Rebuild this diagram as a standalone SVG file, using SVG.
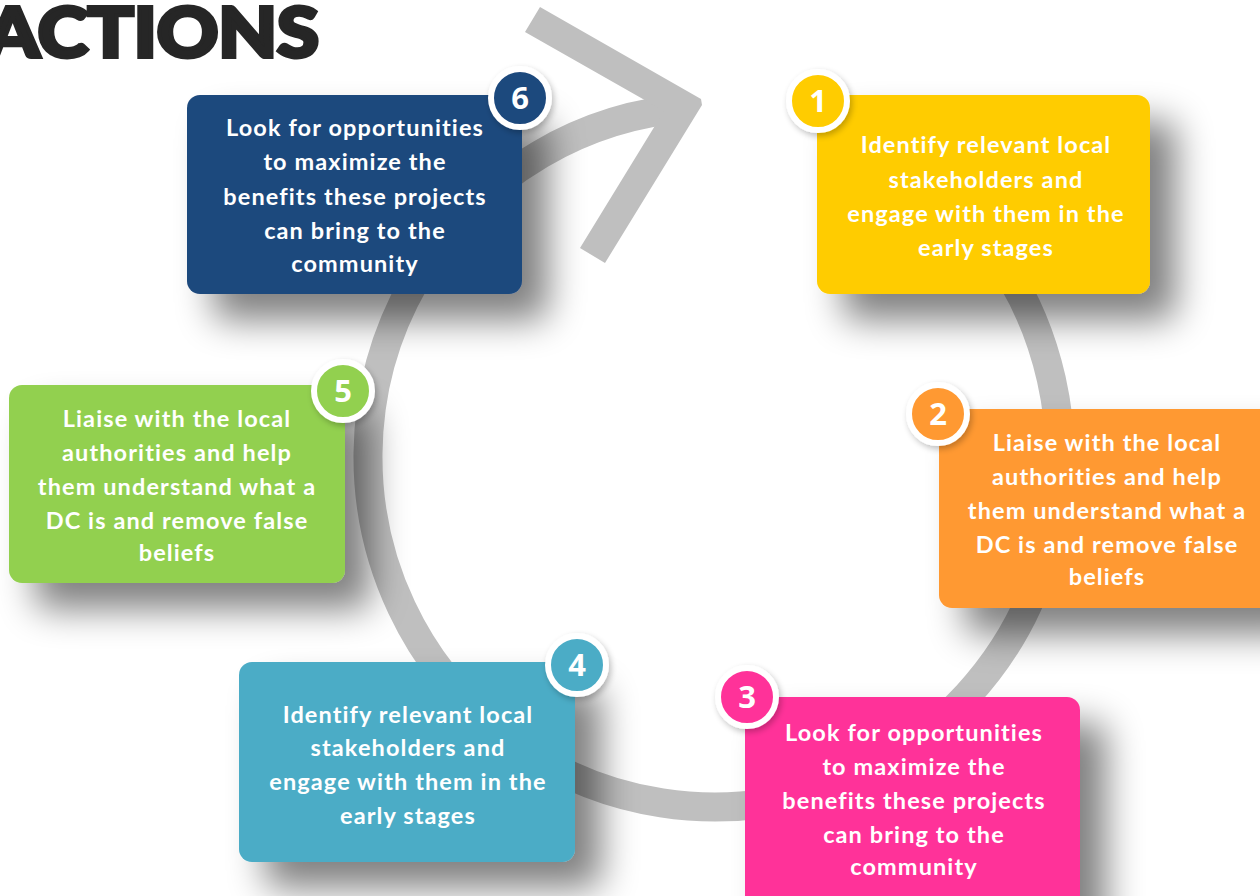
<svg xmlns="http://www.w3.org/2000/svg" width="1260" height="896" viewBox="0 0 1260 896">
<defs>
<filter id="sh" x="-30%" y="-30%" width="170%" height="180%">
<feGaussianBlur in="SourceAlpha" stdDeviation="18"/>
<feOffset dx="26" dy="26" result="b"/>
<feComponentTransfer in="b" result="s"><feFuncA type="linear" slope="0.5"/></feComponentTransfer>
<feMerge><feMergeNode in="s"/><feMergeNode in="SourceGraphic"/></feMerge>
</filter>
<filter id="shc" x="-50%" y="-50%" width="200%" height="200%">
<feGaussianBlur in="SourceAlpha" stdDeviation="3"/>
<feOffset dx="2" dy="3" result="b"/>
<feComponentTransfer in="b" result="s"><feFuncA type="linear" slope="0.25"/></feComponentTransfer>
<feMerge><feMergeNode in="s"/><feMergeNode in="SourceGraphic"/></feMerge>
</filter>
</defs>
<style>
.box{filter:url(#sh)}
.num{stroke:#ffffff;stroke-width:6;filter:url(#shc)}
.t{font-family:Lato,"Open Sans","Liberation Sans",sans-serif;font-weight:700;font-size:23.5px;letter-spacing:1.1px;fill:#ffffff;text-anchor:middle}
.n{font-family:"Open Sans",Lato,"Liberation Sans",sans-serif;font-weight:700;font-size:31px;fill:#ffffff;text-anchor:middle}
.title{font-family:Lato,"Liberation Sans",sans-serif;font-weight:900;font-size:68px;fill:#262626;stroke:#262626;stroke-width:4;stroke-linejoin:miter}
.ring{fill:none;stroke:#bfbfbf;stroke-width:29}
</style>
<rect width="1260" height="896" fill="#ffffff"/>
<text class="title" x="-14" y="57" textLength="333" lengthAdjust="spacingAndGlyphs">ACTIONS</text>
<g id="connectors">
<path class="ring" d="M 840,131 A 346 350 0 1 1 690,107.8"/>
</g>
<g id="node6">
<rect class="box" x="187" y="95" width="335" height="199" rx="13" fill="#1f497d"/>
<text class="t"><tspan x="355" y="136">Look for opportunities</tspan><tspan x="355" y="170">to maximize the</tspan><tspan x="355" y="205">benefits these projects</tspan><tspan x="355" y="239">can bring to the</tspan><tspan x="355" y="272">community</tspan></text>
<circle class="num" cx="520" cy="98" r="29" fill="#1f497d"/>
<text class="n" x="520" y="109">6</text>
</g>
<g id="node1">
<rect class="box" x="817" y="95" width="333" height="199" rx="13" fill="#ffcc00"/>
<text class="t"><tspan x="986" y="153">Identify relevant local</tspan><tspan x="986" y="188">stakeholders and</tspan><tspan x="986" y="222">engage with them in the</tspan><tspan x="986" y="256">early stages</tspan></text>
<circle class="num" cx="818" cy="101" r="29" fill="#ffcc00"/>
<text class="n" x="818" y="112">1</text>
</g>
<g id="node2">
<rect class="box" x="939" y="409" width="340" height="199" rx="13" fill="#ff9933"/>
<text class="t"><tspan x="1107" y="451">Liaise with the local</tspan><tspan x="1107" y="485">authorities and help</tspan><tspan x="1107" y="519">them understand what a</tspan><tspan x="1107" y="553">DC is and remove false</tspan><tspan x="1107" y="585">beliefs</tspan></text>
<circle class="num" cx="938" cy="414" r="29" fill="#ff9933"/>
<text class="n" x="938" y="425">2</text>
</g>
<g id="node5">
<rect class="box" x="9" y="385" width="336" height="198" rx="13" fill="#92d050"/>
<text class="t"><tspan x="177" y="427">Liaise with the local</tspan><tspan x="177" y="461">authorities and help</tspan><tspan x="177" y="495">them understand what a</tspan><tspan x="177" y="529">DC is and remove false</tspan><tspan x="177" y="561">beliefs</tspan></text>
<circle class="num" cx="343" cy="391" r="29" fill="#92d050"/>
<text class="n" x="343" y="402">5</text>
</g>
<g id="node4">
<rect class="box" x="239" y="662" width="336" height="200" rx="13" fill="#4bacc6"/>
<text class="t"><tspan x="408" y="723">Identify relevant local</tspan><tspan x="408" y="756">stakeholders and</tspan><tspan x="408" y="790">engage with them in the</tspan><tspan x="408" y="824">early stages</tspan></text>
<circle class="num" cx="577" cy="665" r="29" fill="#4bacc6"/>
<text class="n" x="577" y="676">4</text>
</g>
<g id="node3">
<rect class="box" x="745" y="697" width="335" height="220" rx="13" fill="#ff3399"/>
<text class="t"><tspan x="914" y="741">Look for opportunities</tspan><tspan x="914" y="775">to maximize the</tspan><tspan x="914" y="809">benefits these projects</tspan><tspan x="914" y="843">can bring to the</tspan><tspan x="914" y="875">community</tspan></text>
<circle class="num" cx="747" cy="697" r="29" fill="#ff3399"/>
<text class="n" x="747" y="708">3</text>
</g>
<g id="arrowhead">
<polygon points="540,7 701,99 702,105 605,263 580,248 664,111 525,32" fill="#bfbfbf"/>
</g>
</svg>
